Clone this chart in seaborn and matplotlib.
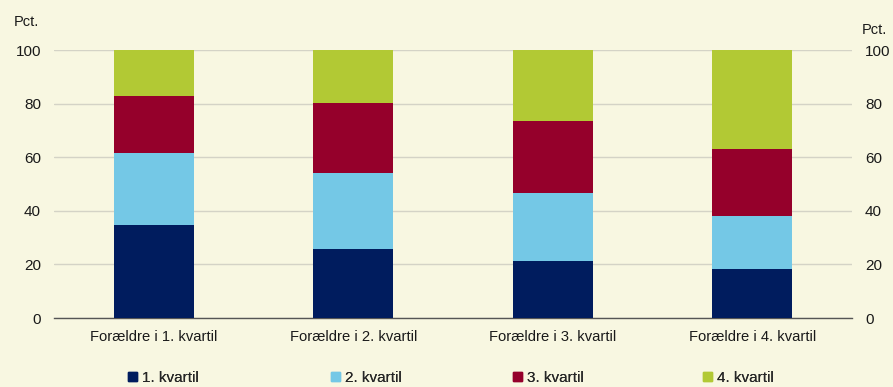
import numpy as np
import pandas as pd
import matplotlib.pyplot as plt
import matplotlib.patches as mpatches
import seaborn as sns

# data
categories = ['Forældre i 1. kvartil', 'Forældre i 2. kvartil',
              'Forældre i 3. kvartil', 'Forældre i 4. kvartil']
series_names = ['1. kvartil', '2. kvartil', '3. kvartil', '4. kvartil']
q1 = [34.6, 25.7, 21.1, 18.4]
q2 = [26.8, 28.4, 25.5, 19.5]
q3 = [21.5, 26.0, 27.0, 25.3]
q4 = [17.1, 19.9, 26.4, 36.8]
colors = ['#001C5E', '#74C8E6', '#95002B', '#B2C934']

bg = '#F8F7E1'

sns.set_theme(style='white')
plt.rcParams['font.family'] = ['Liberation Sans', 'DejaVu Sans']
plt.rcParams['font.size'] = 10

df = pd.DataFrame({'kategori': categories, 'q1': q1, 'q2': q2, 'q3': q3, 'q4': q4})
layers = ['q1', 'q2', 'q3', 'q4']
cum = df[layers].cumsum(axis=1)

fig = plt.figure(figsize=(8.93, 3.87), dpi=100, facecolor=bg)
ax = fig.add_axes([54 / 893, 1 - 318 / 387, (852 - 54) / 893, (318 - 50) / 387])
ax.set_facecolor(bg)

# draw from the top layer down so each bar hides the part below
for col, color in zip(reversed(layers), reversed(colors)):
    sns.barplot(x=df['kategori'], y=cum[col], color=color, width=0.4,
                saturation=1, linewidth=0, ax=ax, zorder=3)

ax.set_ylim(0, 100)
ax.set_xlim(-0.5, 3.5)
ax.set_yticks(np.arange(0, 101, 20))
ax.yaxis.grid(True, color='#D4D3C6', linewidth=1, zorder=0)
ax.set_axisbelow(True)
ax.set_xlabel('')
ax.set_ylabel('')
for s in ['left', 'right', 'top']:
    ax.spines[s].set_visible(False)
ax.spines['bottom'].set_color('#555555')
ax.spines['bottom'].set_linewidth(1)
ax.set_xticks([0, 1, 2, 3])
ax.set_xticklabels(categories, fontsize=10.6, color='#1a1a1a')
ax.set_xticks([-0.5, 0.5, 1.5, 2.5, 3.5], minor=True)
ax.tick_params(axis='x', which='major', length=0, pad=8.5)
ax.tick_params(axis='x', which='minor', length=4, color='#555555', width=1, direction='out')
ax.tick_params(axis='y', length=0, labelsize=11, pad=9.4, colors='#1a1a1a')

ax2 = ax.twinx()
ax2.set_ylim(0, 100)
ax2.set_yticks(np.arange(0, 101, 20))
ax2.tick_params(axis='y', length=0, labelsize=11, pad=9.4, colors='#1a1a1a')
for s in ax2.spines.values():
    s.set_visible(False)
ax2.grid(False)

fig.text(14 / 893, 1 - 22 / 387, 'Pct.', fontsize=10.5, va='center', ha='left', color='#1a1a1a')
fig.text(862 / 893, 1 - 30 / 387, 'Pct.', fontsize=10.5, va='center', ha='left', color='#1a1a1a')

# legend entries sit at uneven spots in the reference, so place each one
legend_x = [128, 331, 513, 703]
for c, n, lx in zip(colors, series_names, legend_x):
    leg = fig.legend(handles=[mpatches.Patch(color=c, label=n)], loc='center left',
                     bbox_to_anchor=(lx / 893, 1 - 378 / 387), frameon=False,
                     fontsize=11, handlelength=0.6, handleheight=0.6,
                     handletextpad=0.3, borderpad=0, borderaxespad=0)
    fig.add_artist(leg)

fig.savefig('out.png', dpi=100, facecolor=bg)
